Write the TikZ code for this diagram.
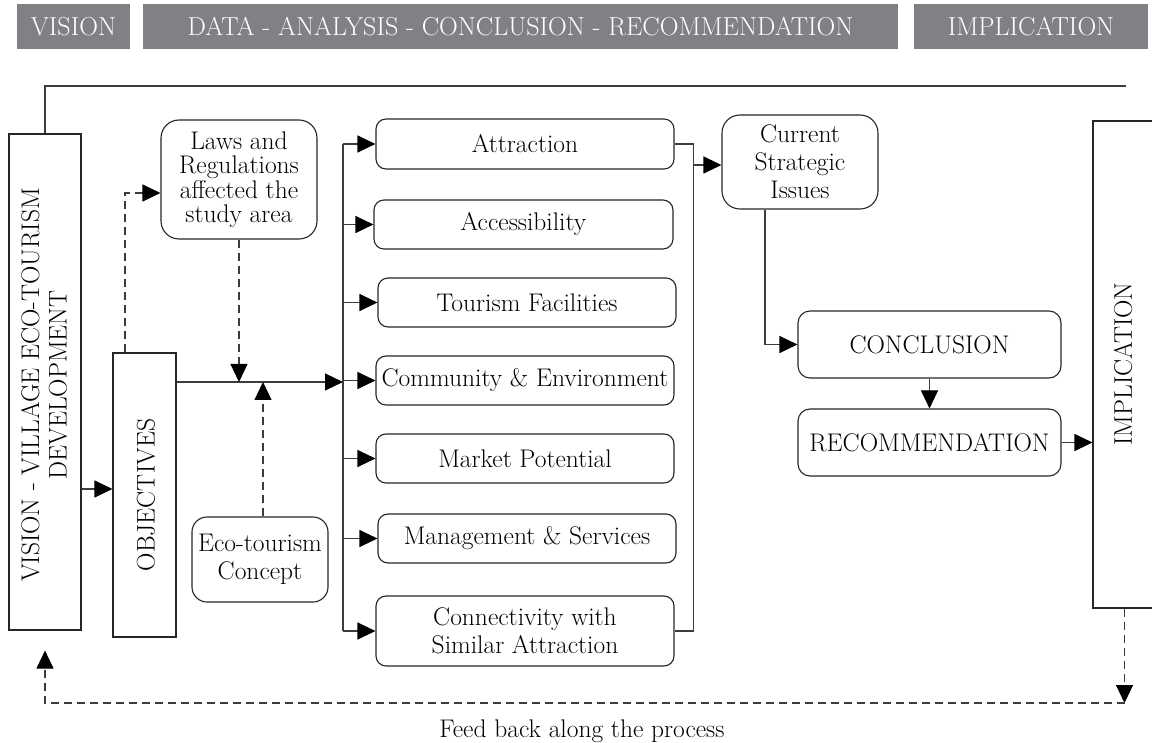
\documentclass[tikz,border=0pt]{standalone}
\usetikzlibrary{arrows.meta}
\definecolor{hdrgray}{RGB}{128,129,133}
\definecolor{lncol}{RGB}{60,60,60}
\begin{document}
\begin{tikzpicture}[x=1pt,y=-1pt,
  every node/.style={font=\fontsize{25.5}{28}\selectfont, inner sep=0pt, align=center},
  ln/.style={draw=lncol, line width=1.1pt},
  box/.style={draw=black!85, line width=1.1pt, fill=white},
  rbox/.style={box, rounded corners=10pt},
  hdr/.style={fill=hdrgray, text=white, minimum height=45pt, font=\fontsize{26}{28}\selectfont},
  arr/.style={ln, -{Triangle[length=18pt,width=17pt,color=black]}},
  dsh/.style={dash pattern=on 8pt off 5pt}]
\useasboundingbox (0,0) rectangle (1152,743);

% headers
\node[hdr, minimum width=113pt] (hv) at (73.5,26.5) {VISION};
\node[hdr, minimum width=755pt] (hd) at (520.5,26.5) {DATA - ANALYSIS - CONCLUSION - RECOMMENDATION};
\node[hdr, minimum width=234pt] (hi) at (1031,26.5) {IMPLICATION};

% left boxes
\node[box, minimum width=72pt, minimum height=496pt] (vis) at (45,382) {};
\node[rotate=90, font=\fontsize{25.5}{27.5}\selectfont] (vist) at (44,385) {VISION - VILLAGE ECO-TOURISM\\DEVELOPMENT};
\node[box, minimum width=63pt, minimum height=284pt] (obj) at (144.5,495) {};
\node[rotate=90] (objt) at (146,495) {OBJECTIVES};

\node[box, rounded corners=18pt, minimum width=156pt, minimum height=119pt, font=\fontsize{25.5}{24.5}\selectfont] (laws) at (239,179.5) {Laws and\\Regulations\\affected the\\study area};
\node[box, rounded corners=15pt, minimum width=136pt, minimum height=85pt] (eco) at (260,559.5) {Eco-tourism\\Concept};

% middle boxes
\node[rbox, minimum width=298pt, minimum height=50pt] (attr) at (525,144) {Attraction};
\node[rbox, minimum width=299pt, minimum height=49pt] (acc) at (523.5,224.5) {Accessibility};
\node[rbox, minimum width=298pt, minimum height=49pt] (tour) at (527,302.5) {Tourism Facilities};
\node[rbox, minimum width=298pt, minimum height=49pt] (comm) at (525,380.5) {Community \& Environment};
\node[rbox, minimum width=298pt, minimum height=49pt] (mark) at (525,458.5) {Market Potential};
\node[rbox, minimum width=298pt, minimum height=49pt] (mgmt) at (527,538.5) {Management \& Services};
\node[rbox, minimum width=298pt, minimum height=70pt] (conn) at (525,631) {Connectivity with\\Similar Attraction};

% right boxes
\node[box, rounded corners=18pt, minimum width=156pt, minimum height=94pt] (cur) at (800,162) {Current\\Strategic\\Issues};
\node[box, rounded corners=12pt, minimum width=263pt, minimum height=67pt] (concl) at (929.5,344.5) {CONCLUSION};
\node[box, rounded corners=12pt, minimum width=263pt, minimum height=67pt] (rec) at (929.5,442.5) {RECOMMENDATION};
\node[box, minimum width=63pt, minimum height=487pt] (impl) at (1124.5,364.5) {};
\node[rotate=90] (implt) at (1123,364) {IMPLICATION};

% top frame
\coordinate (topend) at (1126,86);
\draw[ln] (vis.north) |- (topend);

% vision -> objectives
\draw[arr] (vis.east |- 0,489) -- (obj.west |- 0,489);

% objectives -> laws (dashed)
\draw[arr, dsh] ([xshift=-19.5pt]obj.north) |- (laws.west |- 0,193);

% main bus
\coordinate (bus) at (343,382);
\draw[arr] (obj.east |- bus) -- (bus);
\draw[arr, dsh] (laws.south) -- (laws.south |- bus);
\draw[arr, dsh] ([xshift=3pt]eco.north) -- ([xshift=3pt]eco.north |- bus);

\draw[ln] (bus |- attr.west) -- (bus |- conn.west);
\foreach \n in {attr,acc,tour,comm,mark,mgmt,conn}
  \draw[arr] (bus |- \n.west) -- (\n.west);

% right collector
\draw[ln] (attr.east) -- ++(19,0) |- (conn.east);
\coordinate (rc) at (693,165);
\draw[arr] (rc) -- (cur.west |- rc);

% cur -> conclusion -> recommendation -> implication
\draw[arr] ([xshift=-35pt]cur.south) |- (concl.west);
\draw[arr] (concl.south) -- (rec.north);
\draw[arr] (rec.east) -- (impl.west |- rec.east);

% feedback
\coordinate (fbr) at (impl.south |- 0,703);
\draw[arr, dsh] (impl.south) -- (fbr);
\draw[arr, dsh] (fbr) -- (vis.south |- fbr) -- ([yshift=-20pt]vis.south);
\node (fb) at (582,731) {Feed back along the process};
\end{tikzpicture}
\end{document}
